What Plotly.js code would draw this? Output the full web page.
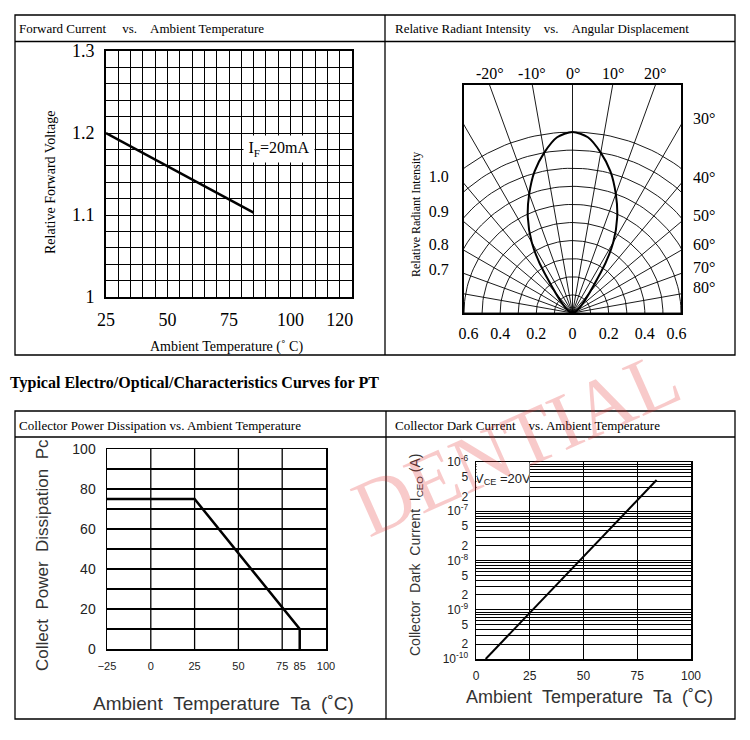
<!DOCTYPE html>
<html><head><meta charset="utf-8">
<script src="https://cdn.plot.ly/plotly-3.0.1.min.js"></script>
<style>html,body{margin:0;padding:0;background:#fff}#chart{width:750px;height:740px}</style>
</head><body><div id="chart"></div>
<script>
// ---------------- data ----------------
// 1. Forward voltage vs ambient temperature
const fwdTemp = [25, 85];
const fwdVoltage = [1.2, 1.103];
const fwdXTickLabels = ['25', '50', '75', '100', '120'];
const fwdYTickLabels = ['1', '1.1', '1.2', '1.3'];

// 2. Relative radiant intensity vs angular displacement
const lobeAngle = [0, 5, 10, 15, 20, 25, 30, 35, 38];
const lobeIntensity = [1.0, 0.975, 0.90, 0.81, 0.70, 0.585, 0.45, 0.27, 0.0];
const ringRadii = [0.1, 0.2, 0.3, 0.4, 0.5, 0.6, 0.7, 0.8, 0.9, 1.0];
const spokeAngles = [-90, -80, -70, -60, -50, -40, -30, -20, -10, 0, 10, 20, 30, 40, 50, 60, 70, 80, 90];
const topAngleLabels = [-20, -10, 0, 10, 20];
const sideAngleLabels = [30, 40, 50, 60, 70, 80];
const polarBottomLabels = ['0.6', '0.4', '0.2', '0', '0.2', '0.4', '0.6'];
const polarLeftLabels = ['1.0', '0.9', '0.8', '0.7'];

// 3. Collector power dissipation vs ambient temperature
const pcTemp = [-25, 25, 85, 85];
const pcPower = [75, 75, 10, 0];
const pcXTickLabels = ['\u221225', '0', '25', '50', '75', '85', '100'];
const pcYTickLabels = ['0', '20', '40', '60', '80', '100'];

// 4. Collector dark current vs ambient temperature
const darkTemp = [4.5, 26.4, 48.3, 70.2, 84];
const darkCurrent = [1e-10, 1e-9, 1e-8, 1e-7, 4.3e-7];
const darkXTickLabels = ['0', '25', '50', '75', '100'];
const darkDecades = [-10, -9, -8, -7, -6];

// ---------------- helpers ----------------
const W = 750, H = 740;
const fx = p => p / W;
const fy = p => 1 - p / H;
const SERIF = 'Liberation Serif, Times New Roman, serif';
const SANS = 'Liberation Sans, Arial, sans-serif';
const deg = Math.PI / 180;
const NB = '\u00a0';
const sp = n => NB.repeat(n);

function ann(text, x, y, o) {
  return Object.assign({text: text, x: fx(x), y: fy(y), xref: 'paper', yref: 'paper',
    xanchor: 'center', yanchor: 'middle',
    showarrow: false, font: {family: SERIF, size: 13, color: '#000'}}, o || {});
}

const traces = [];

// chart 1
traces.push({x: fwdTemp, y: fwdVoltage, xaxis: 'x', yaxis: 'y', mode: 'lines',
  line: {color: '#000', width: 2.5}, hoverinfo: 'skip', showlegend: false});

// chart 2 : polar grid drawn in a cartesian box
ringRadii.forEach(r => {
  const t = []; for (let a = -90; a <= 90; a += 2) t.push(a);
  traces.push({x: t.map(a => r * Math.sin(a * deg)), y: t.map(a => r * Math.cos(a * deg)),
    xaxis: 'x2', yaxis: 'y2', mode: 'lines', line: {color: '#000', width: 0.9},
    hoverinfo: 'skip', showlegend: false});
});
spokeAngles.forEach(a => {
  traces.push({x: [0, 2 * Math.sin(a * deg)], y: [0, 2 * Math.cos(a * deg)],
    xaxis: 'x2', yaxis: 'y2', mode: 'lines', line: {color: '#000', width: 0.9},
    hoverinfo: 'skip', showlegend: false});
});
const lobeTheta = lobeAngle.slice().reverse().map(a => -a).concat(lobeAngle.slice(1));
const lobeR = lobeIntensity.slice().reverse().concat(lobeIntensity.slice(1));
traces.push({x: lobeTheta.map((a, i) => lobeR[i] * Math.sin(a * deg)),
  y: lobeTheta.map((a, i) => lobeR[i] * Math.cos(a * deg)),
  xaxis: 'x2', yaxis: 'y2', mode: 'lines', line: {color: '#000', width: 2, shape: 'spline', smoothing: 0.8},
  hoverinfo: 'skip', showlegend: false});

// chart 3
traces.push({x: pcTemp, y: pcPower, xaxis: 'x3', yaxis: 'y3', mode: 'lines',
  line: {color: '#000', width: 2.5}, hoverinfo: 'skip', showlegend: false});

// chart 4
traces.push({x: darkTemp, y: darkCurrent, xaxis: 'x4', yaxis: 'y4', mode: 'lines',
  line: {color: '#000', width: 2}, hoverinfo: 'skip', showlegend: false});

// log ticks for chart 4 (labels at 1, 2, 5; grid at every digit)
const logVals = [], logText = [], logMinor = [];
darkDecades.forEach((d, i) => {
  const last = i === darkDecades.length - 1;
  for (let m = 1; m <= (last ? 1 : 9); m++) {
    const v = m * Math.pow(10, d);
    if (m === 1) { logVals.push(v); logText.push('10<sup>' + d + '</sup>'); }
    else if (m === 2 || m === 5) { logVals.push(v); logText.push(String(m)); }
    else logMinor.push(v);
  }
});

const frame = {showline: true, mirror: true, linecolor: '#000', zeroline: false, ticks: '', fixedrange: true};

const layout = {
  width: W, height: H, margin: {l: 0, r: 0, t: 0, b: 0},
  paper_bgcolor: '#fff', plot_bgcolor: '#fff', showlegend: false,
  font: {family: SERIF, color: '#000'},
  // chart 1
  xaxis: Object.assign({}, frame, {domain: [fx(106), fx(352)], anchor: 'y', range: [25, 125],
    tickmode: 'array', tickvals: [25, 50, 75, 100, 120], ticktext: fwdXTickLabels,
    showgrid: true, gridcolor: '#000', gridwidth: 1, linewidth: 2,
    minor: {tick0: 25, dtick: 5, showgrid: true, gridcolor: '#000', gridwidth: 1},
    tickfont: {family: SERIF, size: 18, color: '#000'}, ticklabelstandoff: 5}),
  yaxis: Object.assign({}, frame, {domain: [fy(297), fy(51)], anchor: 'x', range: [1, 1.3],
    tickmode: 'array', tickvals: [1, 1.1, 1.2, 1.3], ticktext: fwdYTickLabels,
    showgrid: true, gridcolor: '#000', gridwidth: 1, linewidth: 2,
    minor: {tick0: 1, dtick: 0.02, showgrid: true, gridcolor: '#000', gridwidth: 1},
    tickfont: {family: SERIF, size: 18, color: '#000'}, ticklabelstandoff: 6}),
  // chart 2
  xaxis2: Object.assign({}, frame, {domain: [fx(464), fx(681)], anchor: 'y2', range: [-0.6, 0.6],
    tickmode: 'array', tickvals: [-0.575, -0.4, -0.2, 0, 0.2, 0.4, 0.575], ticktext: polarBottomLabels,
    showgrid: false, linewidth: 2, tickfont: {family: SERIF, size: 16, color: '#000'}, ticklabelstandoff: 5}),
  yaxis2: Object.assign({}, frame, {domain: [fy(313), fy(85)], anchor: 'x2', range: [0, 1.26],
    tickmode: 'array', tickvals: [0.755, 0.56, 0.38, 0.24], ticktext: polarLeftLabels,
    showgrid: false, linewidth: 2, tickfont: {family: SERIF, size: 16, color: '#000'}, ticklabelstandoff: 10}),
  // chart 3
  xaxis3: Object.assign({}, frame, {domain: [fx(107), fx(326)], anchor: 'y3', range: [-25, 100],
    tickmode: 'array', tickvals: [-25, 0, 25, 50, 75, 85, 100], ticktext: pcXTickLabels,
    showgrid: false, linewidth: 1.5,
    tickfont: {family: SANS, size: 11, color: '#222'}, ticklabelstandoff: 6}),
  yaxis3: Object.assign({}, frame, {domain: [fy(649), fy(449)], anchor: 'x3', range: [0, 100],
    tickmode: 'array', tickvals: [0, 20, 40, 60, 80, 100], ticktext: pcYTickLabels,
    showgrid: true, gridcolor: '#000', gridwidth: 1.3, linewidth: 1.5,
    minor: {tick0: 0, dtick: 10, showgrid: true, gridcolor: '#000', gridwidth: 1.3},
    tickfont: {family: SANS, size: 14, color: '#222'}, ticklabelstandoff: 7}),
  // chart 4
  xaxis4: Object.assign({}, frame, {domain: [fx(476), fx(691)], anchor: 'y4', range: [0, 100],
    tickmode: 'array', tickvals: [0, 25, 50, 75, 100], ticktext: darkXTickLabels,
    showgrid: true, gridcolor: '#000', gridwidth: 1, linewidth: 1.5,
    tickfont: {family: SANS, size: 12, color: '#222'}, ticklabelstandoff: 5}),
  yaxis4: Object.assign({}, frame, {domain: [fy(659), fy(462)], anchor: 'x4', type: 'log', range: [-10, -6],
    tickmode: 'array', tickvals: logVals, ticktext: logText,
    showgrid: true, gridcolor: '#000', gridwidth: 1, linewidth: 1.5,
    minor: {tickmode: 'array', tickvals: logMinor, showgrid: true, gridcolor: '#000', gridwidth: 1},
    tickfont: {family: SANS, size: 12, color: '#222'}, ticklabelstandoff: 4}),
  shapes: [
    // top table
    {type: 'rect', xref: 'paper', yref: 'paper', x0: fx(15), x1: fx(735), y0: fy(355), y1: fy(15), line: {color: '#000', width: 1.3}},
    {type: 'line', xref: 'paper', yref: 'paper', x0: fx(15), x1: fx(735), y0: fy(41.5), y1: fy(41.5), line: {color: '#000', width: 1.3}},
    {type: 'line', xref: 'paper', yref: 'paper', x0: fx(385), x1: fx(385), y0: fy(15), y1: fy(355), line: {color: '#000', width: 1.3}},
    // bottom table
    {type: 'rect', xref: 'paper', yref: 'paper', x0: fx(15), x1: fx(735), y0: fy(719), y1: fy(411), line: {color: '#000', width: 1.3}},
    {type: 'line', xref: 'paper', yref: 'paper', x0: fx(15), x1: fx(735), y0: fy(437), y1: fy(437), line: {color: '#000', width: 1.3}},
    {type: 'line', xref: 'paper', yref: 'paper', x0: fx(386), x1: fx(386), y0: fy(411), y1: fy(719), line: {color: '#000', width: 1.3}}
  ],
  annotations: []
};

// vertical grid lines of chart 3 (no grid line at the 85 tick)
[0, 25, 50, 75].forEach(v => layout.shapes.push({type: 'line', xref: 'x3', yref: 'y3 domain',
  x0: v, x1: v, y0: 0, y1: 1, layer: 'below', line: {color: '#000', width: 1.3}}));

const A = layout.annotations;
// headers
A.push(ann('Forward Current' + sp(5) + 'vs.' + sp(4) + 'Ambient Temperature', 17, 28, {xanchor: 'left'}));
A.push(ann('Relative Radiant Intensity' + sp(4) + 'vs.' + sp(4) + 'Angular Displacement', 393, 28, {xanchor: 'left'}));
A.push(ann('Typical Electro/Optical/Characteristics Curves for PT', 8, 383,
  {xanchor: 'left', font: {family: SERIF, size: 16, color: '#000', weight: 'bold'}}));
A.push(ann('Collector Power Dissipation vs. Ambient Temperature', 17, 425, {xanchor: 'left'}));
A.push(ann('Collector Dark Current' + sp(4) + 'vs. Ambient Temperature', 393, 425, {xanchor: 'left'}));

// chart 1 titles / label
A.push(ann('Relative Forward Voltage', 50, 183, {textangle: -90, font: {family: SERIF, size: 14, color: '#000'}}));
A.push(ann('Ambient Temperature (\u02da C)', 227, 347, {font: {family: SERIF, size: 14, color: '#000'}}));
A.push(ann('I<sub>F</sub>=20mA', 279, 149, {bgcolor: '#fff', width: 70, height: 26, borderpad: 0,
  font: {family: SERIF, size: 16, color: '#000'}}));

// chart 2 labels
A.push(ann('Relative Radiant Intensity', 416, 215, {textangle: -90, font: {family: SERIF, size: 12, color: '#000'}}));
topAngleLabels.forEach(a => {
  A.push({text: a + '\u00b0', x: 1.26 * Math.tan(a * deg), y: 1.26, xref: 'x2', yref: 'y2',
    xanchor: 'center', yanchor: 'middle',
    yshift: 12, showarrow: false, font: {family: SERIF, size: 16, color: '#000'}});
});
sideAngleLabels.forEach(a => {
  A.push({text: a + '\u00b0', x: 0.6, y: 0.6 / Math.tan(a * deg), xref: 'x2', yref: 'y2',
    xanchor: 'left', yanchor: 'middle', xshift: 10, yshift: 6, showarrow: false,
    font: {family: SERIF, size: 16, color: '#000'}});
});

// chart 3 titles
A.push(ann('Collect' + sp(2) + 'Power' + sp(2) + 'Dissipation' + sp(2) + 'Pc', 42, 555,
  {textangle: -90, font: {family: SANS, size: 17, color: '#333'}}));
A.push(ann('Ambient' + sp(2) + 'Temperature' + sp(2) + 'Ta' + sp(2) + '(\u02daC)', 223, 703,
  {font: {family: SANS, size: 19, color: '#333'}}));

// chart 4 titles
A.push(ann('Collector' + sp(2) + 'Dark' + sp(2) + 'Current' + sp(2) + 'I<sub>CEO</sub>' + NB + '(A)', 416, 555,
  {textangle: -90, font: {family: SANS, size: 14, color: '#333'}}));
A.push(ann('Ambient' + sp(2) + 'Temperature' + sp(2) + 'Ta' + sp(2) + '(\u02daC)', 589, 697,
  {font: {family: SANS, size: 18, color: '#333'}}));
A.push(ann('V<sub>CE</sub> =20V', 503, 479, {bgcolor: '#fff', width: 52, height: 32, borderpad: 0,
  font: {family: SANS, size: 13, color: '#222'}}));

// watermark
A.push(ann('DENTIAL', 516, 443, {textangle: -24,
  font: {family: SERIF, size: 80, color: 'rgba(228,50,50,0.26)'}}));

Plotly.newPlot('chart', traces, layout, {displayModeBar: false, staticPlot: true});
</script>
</body></html>
